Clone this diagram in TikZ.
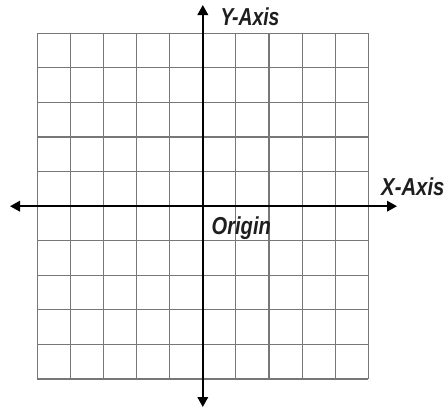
\documentclass[tikz,border=0pt]{standalone}
\usepackage{fontspec}
\setmainfont{Liberation Sans}
\usetikzlibrary{arrows.meta}
\definecolor{gridgray}{HTML}{777777}
\definecolor{txt}{HTML}{1E1E1E}
\tikzset{
  gridline/.style={draw=gridgray, line width=1.1pt},
  axisline/.style={draw=black, line width=2pt, {Triangle[length=10pt,width=10.5pt]}-{Triangle[length=10pt,width=10.5pt]}},
  axlabel/.style={inner sep=0pt, anchor=base west, text=txt, font=\fontsize{24.5}{26}\selectfont\bfseries\itshape}
}
\begin{document}
\begin{tikzpicture}[x=1pt,y=-1pt]
\useasboundingbox (0,0) rectangle (445,410);
% grid
\foreach \i in {0,...,10}{
  \draw[gridline] ({37.3+\i*33.1},33.3) -- ({37.3+\i*33.1},379);
  \draw[gridline] (37.3,{33.3+\i*34.57}) -- (368.3,{33.3+\i*34.57});
}
% axes
\coordinate (xl) at (10,206.2);
\coordinate (xr) at (397,206.2);
\coordinate (yt) at (202.8,5);
\coordinate (yb) at (202.8,407);
\draw[axisline] (xl) -- (xr);
\draw[axisline] (yb) -- (yt);
% labels
\node[axlabel] (ylab) at (220.5,25) {\scalebox{0.79}[1]{Y-Axis}};
\node[axlabel] (xlab) at (381,195) {\scalebox{0.83}[1]{X-Axis}};
\node[axlabel] (orig) at (211.5,234) {\scalebox{0.82}[1]{Origin}};
\end{tikzpicture}
\end{document}
